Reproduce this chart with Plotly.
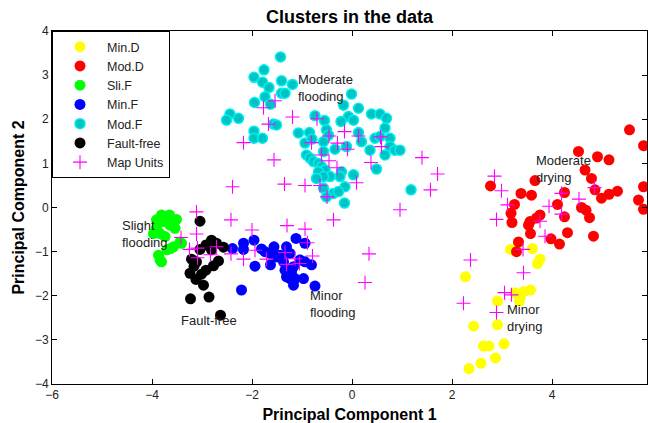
import plotly.graph_objects as go

# ---- data ----
min_d_x = [3.17, 3.33, 3.61, 3.76, 3.71, 2.27, 3.26, 3.43, 3.57, 3.36, 3.35, 2.91, 2.43, 2.91, 2.63, 2.74, 3.04, 2.58, 2.87, 2.34]
min_d_y = [-0.95, -0.81, -0.93, -1.17, -1.27, -1.57, -1.93, -1.91, -1.87, -2.02, -2.12, -2.12, -2.69, -2.66, -3.14, -3.14, -3.09, -3.53, -3.41, -3.65]

mod_d_x = [5.55, 5.83, 4.53, 4.91, 5.14, 4.66, 4.79, 3.66, 2.77, 4.86, 5.31, 5.14, 4.99, 5.83, 5.73, 5.83,
           3.38, 3.59, 4.25, 4.11, 3.25, 3.18, 3.20, 4.59, 4.68, 4.75, 4.25, 3.76, 3.69, 3.56, 3.53, 3.57,
           4.31, 4.83, 3.98, 4.15, 3.33, 3.29]
mod_d_y = [1.76, 1.40, 1.27, 1.15, 1.08, 0.85, 0.66, 0.61, 0.49, 0.40, 0.37, 0.30, 0.21, 0.47, 0.17, -0.04,
           0.32, 0.28, 0.34, 0.07, 0.07, -0.13, -0.34, 0.00, -0.06, -0.23, -0.21, -0.17, -0.24, -0.32, -0.40, -0.59,
           -0.57, -0.65, -0.71, -0.83, -0.78, -1.00]

sli_f_x = [-3.81, -3.65, -3.51, -3.91, -3.77, -3.64, -3.54, -3.91, -3.97, -3.84, -3.74, -3.44, -3.41, -3.57, -3.63, -3.70, -3.87, -3.84, -3.81]
sli_f_y = [-0.17, -0.17, -0.27, -0.28, -0.32, -0.40, -0.47, -0.47, -0.59, -0.59, -0.66, -0.78, -0.81, -0.89, -0.93, -0.96, -1.08, -1.19, -1.23]

min_f_x = [-2.39, -2.17, -2.17, -1.96, -1.94, -2.21, -1.81, -1.74, -1.64, -1.56, -1.51, -1.63, -1.31, -1.24, -1.37,
           -1.34, -1.21, -1.17, -1.24, -1.14, -1.12, -0.94, -1.04, -0.94, -0.81, -0.97, -0.74, -1.17, -1.31, -1.44]
min_f_y = [-0.93, -0.81, -0.95, -0.74, -1.33, -1.87, -0.94, -1.00, -1.04, -0.89, -1.12, -1.30, -0.89, -1.04, -1.23,
           -1.42, -1.46, -1.34, -1.61, -1.61, -0.70, -0.81, -1.19, -1.23, -1.30, -1.61, -1.78, -1.76, -1.57, -1.08]

mod_f_x = [-1.43, -1.76, -1.96, -1.79, -1.66, -1.41, -1.19, -1.74, -1.95, -1.63, -1.41, -1.34, -2.44, -2.51, -2.27,
           -1.57, -1.51, -1.96, -1.96, -1.79, -1.07, -0.74, -0.01, -0.17, 0.13, -0.55, -0.07, 0.03, -0.22, 0.39,
           0.56, 0.69, -0.51, -0.47, 0.13, 0.19, 0.66, 0.46, 0.56, 0.76, 0.76, 0.86, 0.96, 0.36, -0.11, -0.34,
           -0.57, -0.57, -0.94, -0.91, -0.84, -0.77, -0.67, -0.61, -0.54, -0.67, 0.66, 0.49, -0.21, -0.24, -0.44,
           -0.57, -0.71, 0.03, -0.14, -0.57, -0.37, -0.27, -0.51, -0.15, 1.18, -0.85, -0.80]
mod_f_y = [3.41, 3.12, 2.95, 2.84, 2.72, 2.87, 2.79, 2.51, 2.38, 2.34, 2.59, 2.59, 2.12, 1.98, 2.02,
           1.89, 1.87, 1.73, 1.57, 1.57, 1.69, 2.08, 2.57, 2.32, 2.25, 1.97, 2.06, 1.98, 1.95, 2.12,
           2.12, 2.02, 1.76, 1.64, 1.70, 1.49, 1.80, 1.57, 1.61, 1.57, 1.38, 1.30, 1.30, 1.30, 1.38, 1.32,
           1.49, 1.27, 1.46, 1.19, 1.12, 1.04, 1.00, 0.93, 0.85, 0.81, 1.19, 0.87, 0.81, 0.70, 0.70,
           0.70, 0.66, 0.74, 0.47, 0.44, 0.32, 0.36, 0.24, 0.10, 0.40, 1.70, 1.55]

fault_x = [-3.04, -2.81, -2.71, -2.92, -3.04, -2.57, -2.67, -2.77, -2.92, -3.01, -3.21, -3.11, -3.24, -3.12, -2.97, -3.23, -2.86, -2.63, -2.81, -3.16]
fault_y = [-0.31, -0.74, -0.81, -0.85, -0.95, -0.90, -1.21, -1.32, -1.42, -1.51, -1.17, -1.23, -1.49, -1.63, -1.76, -2.07, -2.03, -2.44, -0.96, -1.33]

map_x = [-1.54, -1.77, -1.19, -1.67, -2.17, -0.81, -1.56, -2.39, -1.35, -0.94, -0.64, -0.70, -0.46, -0.15, 0.13,
         0.57, 0.59, -0.29, -0.09, -0.61, -0.46, -0.30, 0.38, 0.09, -0.50, 1.40, 1.71, 1.57, 2.85, 2.99,
         4.19, 4.54, 4.85, 3.11, 2.89, 3.94, 4.19, 3.76, 3.86, 3.42, 3.43, 2.37, 3.05, 3.19, 2.23, 2.89,
         0.96, -0.37, -0.94, -0.89, -0.79, 0.34, 0.26, -1.05, -3.11, -3.11, -3.42, -3.25, -3.09, -2.83, -2.71,
         -2.42, -2.42, -2.00, -1.94, -2.17, -1.71, -1.30, -1.34, -1.31, -1.14, -3.09]
map_y = [2.42, 2.26, 2.05, 1.89, 1.47, 1.47, 1.08, 0.47, 0.53, 0.50, 0.50, 2.01, 1.62, 1.72, 1.62,
         1.60, 1.38, 1.46, 1.32, 1.19, 1.06, 0.90, 1.02, 0.56, 0.24, 1.13, 0.76, 0.40, 0.71, 0.38,
         0.32, 0.19, 0.45, 0.06, -0.27, 0.03, -0.15, -0.31, -0.65, -0.95, -1.48, -1.19, -1.93, -1.98, -2.17, -2.38,
         -0.05, -0.28, -0.49, -0.80, -1.10, -1.05, -1.70, -1.27, -0.10, -0.60, -0.68, -0.95, -1.14, -1.07, -0.89,
         -0.28, -1.05, -0.51, -0.97, -1.17, -1.17, -0.41, -1.02, -1.29, -1.16, -0.92]

labels_text = ["Moderate<br>flooding", "Moderate<br>drying", "Slight<br>flooding", "Fault-free", "Minor<br>flooding", "Minor<br>drying"]
labels_x = [-1.12, 3.64, -4.64, -3.46, -0.89, 3.06]
labels_y = [2.70, 0.88, -0.61, -2.55, -2.18, -2.51]

FONT = "Arial, Liberation Sans, sans-serif"
TXT = "#222222"

fig = go.Figure()

def dots(x, y, name, fill, edge=None):
    fig.add_trace(go.Scatter(
        x=x, y=y, mode="markers", name=name,
        marker=dict(size=11 if edge is None else 10, color=fill, symbol="circle",
                    line=dict(width=0 if edge is None else 1.5, color=edge or fill))))

dots(min_d_x, min_d_y, "Min.D", "#ffff00")
dots(mod_d_x, mod_d_y, "Mod.D", "#ff0000")
dots(sli_f_x, sli_f_y, "Sli.F", "#00ff00")
dots(min_f_x, min_f_y, "Min.F", "#0000ff")
dots(mod_f_x, mod_f_y, "Mod.F", "#00c4c4", "#00eeee")
dots(fault_x, fault_y, "Fault-free", "#000000")

fig.add_trace(go.Scatter(
    x=map_x, y=map_y, mode="markers", name="Map Units",
    marker=dict(size=10, symbol="cross-thin", color="#ff00ff",
                line=dict(width=1.1, color="#ff00ff"))))

for t, x, y in zip(labels_text, labels_x, labels_y):
    fig.add_annotation(x=x, y=y, xref="x", yref="y", text=t, showarrow=False,
                       xanchor="left", yanchor="middle", align="left",
                       font=dict(family=FONT, size=13, color=TXT))

axis_common = dict(showgrid=False, zeroline=False, showline=True, linecolor="black",
                   linewidth=1, mirror="ticks", ticks="inside", ticklen=5,
                   tickcolor="black", tickwidth=1,
                   tickfont=dict(family=FONT, size=12, color=TXT))

fig.update_layout(
    width=648, height=423,
    margin=dict(l=52, r=1, t=31, b=39),
    paper_bgcolor="white", plot_bgcolor="white",
    title=dict(text="<b>Clusters in the data</b>", x=0.5, xref="paper", xanchor="center",
               y=1 - 17 / 423, yanchor="middle",
               font=dict(family=FONT, size=18, color="black")),
    xaxis=dict(range=[-6, 5.9], tickmode="array", tickvals=[-6, -4, -2, 0, 2, 4],
               title=dict(text="<b>Principal Component 1</b>", standoff=8,
                          font=dict(family=FONT, size=16, color="black")),
               **axis_common),
    yaxis=dict(range=[-4, 4], tickmode="array", tickvals=[-4, -3, -2, -1, 0, 1, 2, 3, 4],
               title=dict(text="<b>Principal Component 2</b>", standoff=6,
                          font=dict(family=FONT, size=16, color="black")),
               **axis_common),
    legend=dict(x=0, y=1, xanchor="left", yanchor="top", bgcolor="white",
                bordercolor="black", borderwidth=1, itemwidth=44,
                font=dict(family=FONT, size=12.5, color=TXT),
                tracegroupgap=0),
    showlegend=True,
)

fig.write_html("out.html")
